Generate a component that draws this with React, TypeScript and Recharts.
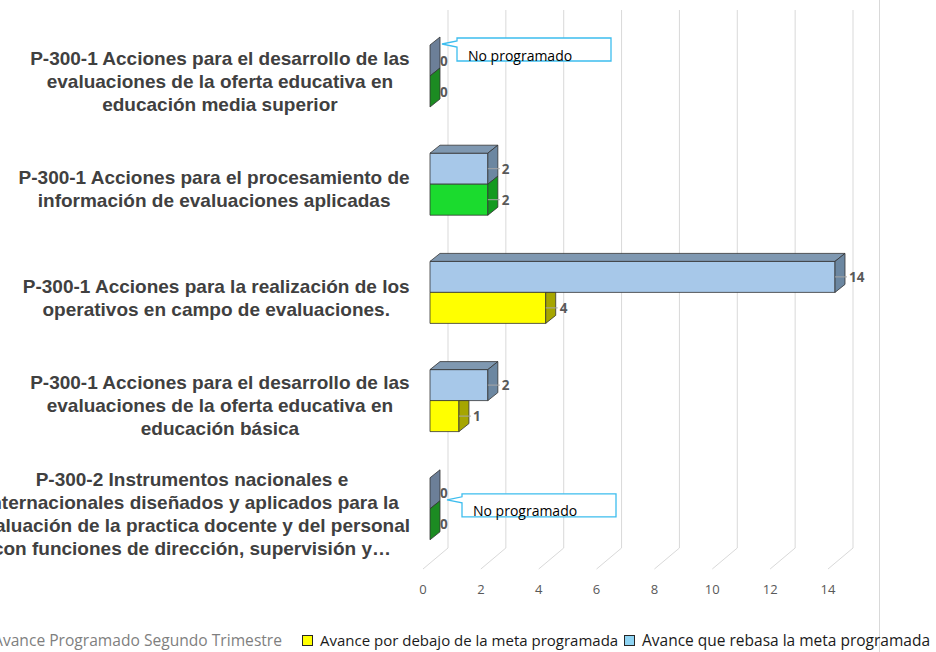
import React from 'react'
import { BarChart, Bar, XAxis, YAxis, CartesianGrid, LabelList } from 'recharts'

// category labels, already broken in lines like the original
const categoryLines = [
  ['P-300-1 Acciones para el desarrollo de las', 'evaluaciones de la oferta educativa en', 'educación media superior'],
  ['P-300-1 Acciones para el procesamiento de', 'información de evaluaciones aplicadas'],
  ['P-300-1 Acciones para la realización de los', 'operativos en campo de evaluaciones.'],
  ['P-300-1 Acciones para el desarrollo de las', 'evaluaciones de la oferta educativa en', 'educación básica'],
  [
    'P-300-2 Instrumentos nacionales e',
    'internacionales diseñados y aplicados para la',
    'evaluación de la practica docente y del personal',
    'con funciones de dirección, supervisión y…',
  ],
]
const categories = categoryLines.map((l) => l.join(' '))
const programado = [0, 2, 14, 2, 0]
const alcanzado = [0, 2, 4, 1, 0]
const xTicks = [0, 2, 4, 6, 8, 10, 12, 14]
const legendNames = [
  'Avance Programado Segundo Trimestre',
  'Avance por debajo de la meta programada',
  'Avance que rebasa la meta programada',
]
const noteText = 'No programado'

const data = categories.map((name, i) => ({ name, programado: programado[i], alcanzado: alcanzado[i] }))
const linesByName: Record<string, string[]> = {}
categories.forEach((c, i) => { linesByName[c] = categoryLines[i] })

const C = {
  blueFront: '#A7C8E9', blueTop: '#7F98B1', blueSide: '#6C87A1',
  slate: '#6C7F98',
  greenFront: '#1BDB2E', greenSide: '#139A20',
  darkGreen: '#1C8B22',
  yellowFront: '#FFFF00', yellowSide: '#A6A600',
  edge: '#333333', grid: '#D9D9D9', label: '#595959', callout: '#3DBDEE',
}
const DX = 10
const DY = 8
const CAT_SIZE = 19
const CAT_FONT = `bold ${CAT_SIZE}px "Liberation Sans", Arial, sans-serif`
const CALLOUT_POS: Record<number, { dx: number; dy: number }> = { 0: { dx: 27, dy: -7 }, 4: { dx: 32, dy: 16 } }

let ctx: CanvasRenderingContext2D | null = null
function textWidth(t: string, font: string) {
  if (!ctx) ctx = document.createElement('canvas').getContext('2d')
  if (!ctx) return t.length * 9
  ctx.font = font
  return ctx.measureText(t).width
}

const pts = (p: number[][]) => p.map((q) => q.join(',')).join(' ')

function TopBar(props: any) {
  const { x, y, height, payload } = props
  const w = Math.max(props.width || 0, 0)
  const side = payload.programado === 0 ? C.slate : C.blueSide
  return (
    <g stroke={C.edge} strokeWidth={0.8} strokeLinejoin="round">
      {w > 0 && <rect x={x} y={y} width={w} height={height} fill={C.blueFront} />}
      {w > 0 && <polygon points={pts([[x, y], [x + DX, y - DY], [x + w + DX, y - DY], [x + w, y]])} fill={C.blueTop} />}
      <polygon points={pts([[x + w, y], [x + w + DX, y - DY], [x + w + DX, y + height - DY], [x + w, y + height]])} fill={side} />
    </g>
  )
}

function BottomBar(props: any) {
  const { x, y, height, payload } = props
  const w = Math.max(props.width || 0, 0)
  let front = C.yellowFront
  let side = C.yellowSide
  if (payload.programado === 0) { front = C.darkGreen; side = C.darkGreen }
  else if (payload.alcanzado >= payload.programado) { front = C.greenFront; side = C.greenSide }
  // the upper bar hides the top of this one when it is longer
  const covered = payload.alcanzado < payload.programado
  const sidePts = covered
    ? [[x + w, y], [x + w + DX, y], [x + w + DX, y + height - DY], [x + w, y + height]]
    : [[x + w, y], [x + w + DX, y - DY], [x + w + DX, y + height - DY], [x + w, y + height]]
  return (
    <g stroke={C.edge} strokeWidth={0.8} strokeLinejoin="round">
      {w > 0 && <rect x={x} y={y} width={w} height={height} fill={front} />}
      <polygon points={pts(sidePts)} fill={side} />
    </g>
  )
}

function ValueLabel(props: any) {
  const vb = props.viewBox && props.viewBox.height != null ? props.viewBox : props
  const { x, y, width, height } = vb
  const w = Math.max(width || 0, 0)
  const ex = x + w
  const cy = y + height / 2
  return (
    <g>
      {w > 0 && <line x1={ex} y1={cy} x2={ex + 12} y2={cy} stroke="#A6A6A6" strokeWidth={1} />}
      <text
        x={w > 0 ? ex + 14 : ex + 10} y={cy} dominantBaseline="central"
        fontFamily='"Open Sans", sans-serif' fontWeight={700} fontSize={13.5} fill={C.label}
      >
        {props.value}
      </text>
    </g>
  )
}

function TopLabel(props: any) {
  const vb = props.viewBox && props.viewBox.height != null ? props.viewBox : props
  const { x, y } = vb
  const i = props.index
  const showNote = programado[i] === 0
  const pos = CALLOUT_POS[i] || { dx: 27, dy: -7 }
  const L = x + pos.dx
  const T = y + pos.dy
  const W = 154
  const H = 23
  return (
    <g>
      <ValueLabel {...props} />
      {showNote && (
        <g>
          <path
            d={`M${L},${T} H${L + W} V${T + H} H${L} V${T + 9} L${L - 15},${T + 6} L${L},${T + 3} Z`}
            fill="#fff" stroke={C.callout} strokeWidth={1.3}
          />
          <text x={L + 11} y={T + 17} dominantBaseline="central" fontFamily='"Open Sans", sans-serif' fontSize={14} fill="#000">
            {noteText}
          </text>
        </g>
      )}
    </g>
  )
}

function CategoryTick(props: any) {
  const { x, y, payload } = props
  const lines = linesByName[payload.value] || [payload.value]
  const maxW = Math.max(...lines.map((l) => textWidth(l, CAT_FONT)))
  const cx = x - 20 - maxW / 2
  const first = y + 5 - ((lines.length - 1) * 23) / 2
  return (
    <text
      textAnchor="middle" fontFamily='"Liberation Sans", Arial, sans-serif' fontWeight={700}
      fontSize={CAT_SIZE} fill="#404040"
    >
      {lines.map((l, k) => (
        <tspan key={k} x={cx} y={first + k * 23} dominantBaseline="central">{l}</tspan>
      ))}
    </text>
  )
}

function ValueTick(props: any) {
  const { x, y, payload } = props
  return (
    <g>
      <line x1={x + 18} y1={y - 15} x2={x - 7} y2={y + 6} stroke={C.grid} strokeWidth={1} />
      <text
        x={x - 7} y={y + 26} textAnchor="middle" dominantBaseline="central"
        fontFamily='"Open Sans", sans-serif' fontSize={13} fill={C.label}
      >
        {payload.value}
      </text>
    </g>
  )
}

function LegendRow() {
  const font: React.CSSProperties = { fontFamily: '"Open Sans", sans-serif', fontSize: 15, whiteSpace: 'nowrap', position: 'absolute', top: 629, lineHeight: '22px' }
  const box = (left: number, fill: string): React.CSSProperties => ({
    position: 'absolute', left, top: 635, width: 9, height: 9, background: fill, border: '1.5px solid #262626',
  })
  return (
    <>
      <div style={{ ...font, fontSize: 15.6, right: 936 - 282, color: '#7F7F7F' }}>
        <span style={{ display: 'inline-block', width: 9, height: 9, background: C.slate, marginRight: 6 }} />
        {legendNames[0]}
      </div>
      <div style={box(302, C.yellowFront)} />
      <div style={{ ...font, left: 320, color: '#1A1A1A' }}>{legendNames[1]}</div>
      <div style={box(624, '#8ED3F2')} />
      <div style={{ ...font, fontSize: 15.5, left: 642, color: '#1A1A1A' }}>{legendNames[2]}</div>
    </>
  )
}

export default function App() {
  return (
    <div style={{ position: 'absolute', left: 0, top: 0, width: 936, height: 652, overflow: 'hidden', background: '#fff' }}>
      <BarChart
        width={936} height={652} data={data} layout="vertical"
        margin={{ top: 22, right: 101, bottom: 49, left: 0 }}
        barGap={0} barSize={31}
      >
        <CartesianGrid
          horizontal={false} stroke={C.grid} y={10} height={538}
          verticalCoordinatesGenerator={({ offset }: any) => xTicks.map((t) => offset.left + (t / 14) * offset.width + 18)}
        />
        <XAxis
          type="number" domain={[0, 14]} ticks={xTicks} axisLine={false} tickLine={false}
          tickSize={0} tickMargin={0} height={40} tick={<ValueTick />} interval={0}
        />
        <YAxis
          type="category" dataKey="name" width={430} axisLine={false} tickLine={false}
          tickSize={0} tickMargin={0} tick={<CategoryTick />} interval={0}
        />
        <Bar dataKey="programado" name={legendNames[0]} shape={<TopBar />} isAnimationActive={false}>
          <LabelList dataKey="programado" content={<TopLabel />} />
        </Bar>
        <Bar dataKey="alcanzado" name={legendNames[1]} shape={<BottomBar />} isAnimationActive={false}>
          <LabelList dataKey="alcanzado" content={<ValueLabel />} />
        </Bar>
      </BarChart>
      <div style={{ position: 'absolute', left: 879, top: 0, width: 1, height: 652, background: C.grid }} />
      <LegendRow />
    </div>
  )
}
